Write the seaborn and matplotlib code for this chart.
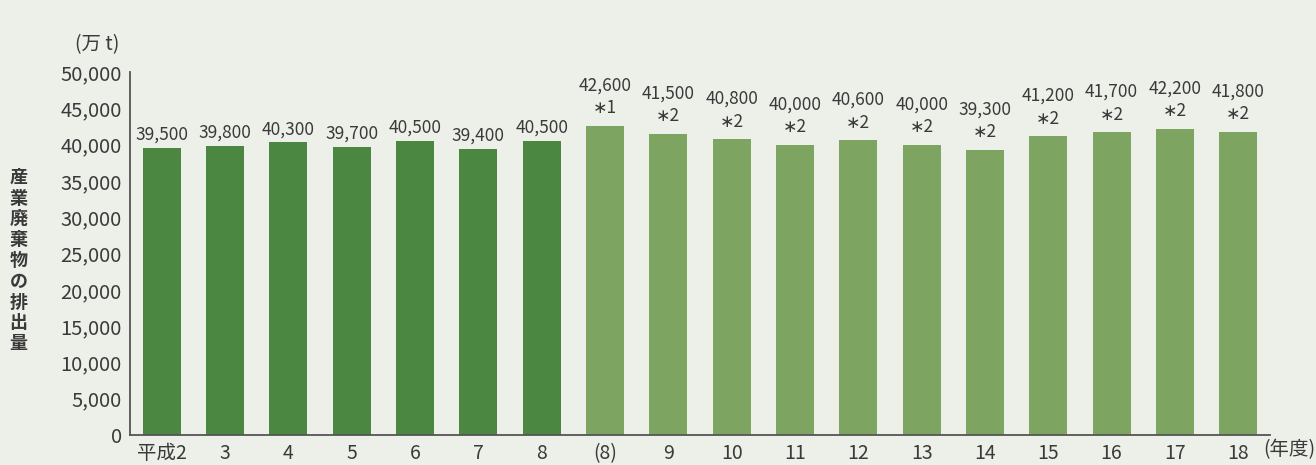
import matplotlib
matplotlib.use("Agg")
import matplotlib.pyplot as plt
import seaborn as sns
import pandas as pd
from matplotlib.ticker import FixedLocator, FuncFormatter

# 産業廃棄物の排出量（万t）
years = ["平成2", "3", "4", "5", "6", "7", "8", "(8)", "9", "10",
         "11", "12", "13", "14", "15", "16", "17", "18"]
values = [39500, 39800, 40300, 39700, 40500, 39400, 40500, 42600, 41500,
          40800, 40000, 40600, 40000, 39300, 41200, 41700, 42200, 41800]
notes = ["", "", "", "", "", "", "", "∗1", "∗2", "∗2",
         "∗2", "∗2", "∗2", "∗2", "∗2", "∗2", "∗2", "∗2"]
y_ticks = [0, 5000, 10000, 15000, 20000, 25000, 30000, 35000, 40000, 45000, 50000]

dark_green = "#4c8741"
light_green = "#7da461"
bg = "#edefe9"
ink = "#3a3a3a"

sns.set_theme(style="white")
plt.rcParams["font.family"] = ["Noto Sans CJK JP", "DejaVu Sans"]

df = pd.DataFrame({"year": years, "value": values})
palette = {y: (dark_green if i < 7 else light_green) for i, y in enumerate(years)}

fig = plt.figure(figsize=(13.16, 4.65), dpi=100, facecolor=bg)
ax = fig.add_axes([0.0988, 0.0645, 0.8662, 0.7805], facecolor=bg)

sns.barplot(data=df, x="year", y="value", hue="year", palette=palette,
            legend=False, width=0.6, saturation=1, linewidth=0, ax=ax)

labels = [f"{v:,}" + (f"\n{n}" if n else "") for v, n in zip(values, notes)]
for cont in ax.containers:
    for bar in cont:
        i = int(round(bar.get_x() + bar.get_width() / 2))
        pad = 6 if notes[i] else 3
        ax.annotate(labels[i], (i, values[i]), xytext=(0, pad),
                    textcoords="offset points", ha="center", va="bottom",
                    fontsize=12.5, color=ink, linespacing=1.35)

ax.set_xlim(-0.5, len(years) - 0.5)
ax.set_ylim(0, 50000)
ax.yaxis.set_major_locator(FixedLocator(y_ticks))
ax.yaxis.set_major_formatter(FuncFormatter(lambda v, p: f"{int(v):,}"))
ax.set_xlabel("")
ax.set_ylabel("")

for s in ["top", "right"]:
    ax.spines[s].set_visible(False)
for s in ["left", "bottom"]:
    ax.spines[s].set_color("#555555")
    ax.spines[s].set_linewidth(1.3)

ax.tick_params(axis="y", direction="in", length=5, width=1.1, color="#555555",
               labelsize=14.5, labelcolor=ink, pad=6)
ax.tick_params(axis="x", which="major", length=0, labelsize=14,
               labelcolor=ink, pad=6)
ax.xaxis.set_minor_locator(FixedLocator([i + 0.5 for i in range(len(years))]))
ax.tick_params(axis="x", which="minor", direction="in", length=5, width=1.1,
               color="#555555")

fig.text(0.074, 0.905, "(万 t)", ha="center", va="center", fontsize=14, color=ink)
fig.text(0.980, 0.032, "(年度)", ha="center", va="center", fontsize=14, color=ink)
fig.text(0.014, 0.44, "\n".join("産業廃棄物の排出量"), ha="center", va="center",
         fontsize=13, color=ink, fontweight="bold", linespacing=1.12)

fig.savefig("out.png", dpi=100, facecolor=bg)
